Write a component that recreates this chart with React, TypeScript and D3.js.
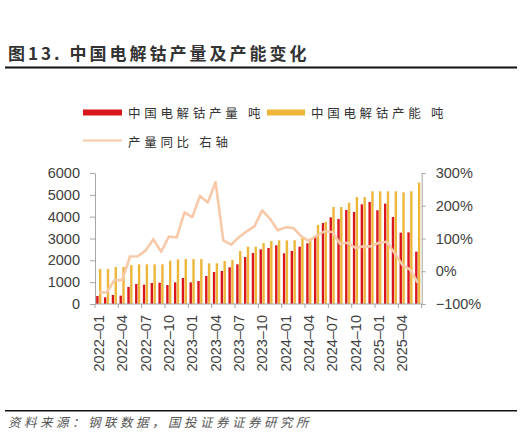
import React, { useEffect, useRef } from "react";
import * as d3 from "d3";

// 月份
const months: string[] = [
  "2022-01", "2022-02", "2022-03", "2022-04", "2022-05", "2022-06",
  "2022-07", "2022-08", "2022-09", "2022-10", "2022-11", "2022-12",
  "2023-01", "2023-02", "2023-03", "2023-04", "2023-05", "2023-06",
  "2023-07", "2023-08", "2023-09", "2023-10", "2023-11", "2023-12",
  "2024-01", "2024-02", "2024-03", "2024-04", "2024-05", "2024-06",
  "2024-07", "2024-08", "2024-09", "2024-10", "2024-11", "2024-12",
  "2025-01", "2025-02", "2025-03", "2025-04", "2025-05", "2025-06",
];

// 中国电解钴产量 (吨)
const output: number[] = [
  366, 305, 412, 382, 779, 916, 885, 962, 977, 870, 992, 1191,
  992, 1053, 1283, 1466, 1512, 1680, 1817, 2153, 2336, 2504, 2565, 2687,
  2321, 2428, 2626, 2779, 3115, 3710, 3970, 3894, 4306, 4214, 4565, 4672,
  4291, 4596, 3985, 3267, 3282, 2397,
];

// 中国电解钴产能 (吨)
const capacity: number[] = [
  1603, 1603, 1695, 1695, 1786, 1817, 1817, 1817, 1817, 1980, 2046, 2055,
  2055, 2055, 1863, 1863, 1970, 2015, 2428, 2626, 2626, 2794, 2886, 2916,
  2916, 2916, 3023, 3000, 3619, 3771, 4443, 4443, 4641, 4901, 4901, 5161,
  5161, 5161, 5161, 5115, 5161, 5560,
];

// 产量同比 (%) 右轴
const yoy: number[] = [
  -65, -65, -27, -27, 45, 46, 63, 98, 59, 106, 103, 180,
  165, 230, 210, 272, 94, 81, 104, 122, 137, 186, 160, 125,
  134, 132, 107, 92, 109, 122, 120, 84, 87, 71, 76, 76,
  87, 90, 56, 20, 5, -35,
];

const leftTicks = [0, 1000, 2000, 3000, 4000, 5000, 6000];
const rightTicks = [-100, 0, 100, 200, 300];

const RED = "#D9161C";
const GOLD = "#EDB63B";
const PEACH = "#F8C9A8";
const cjk = "'Noto Sans CJK SC', 'Noto Sans', sans-serif";
const num = "'Liberation Sans', Arial, sans-serif";

const App: React.FC = () => {
  const svgRef = useRef<SVGSVGElement | null>(null);

  useEffect(() => {
    const svg = d3.select(svgRef.current);
    svg.selectAll("*").remove();

    const left = 95;
    const right = 421.7;
    const top = 173;
    const bottom = 304;

    const x = d3.scaleBand<string>().domain(months).range([left, right]).padding(0);
    const y = d3.scaleLinear().domain([0, 6000]).range([bottom, top]);
    const y2 = d3.scaleLinear().domain([-100, 300]).range([bottom, top]);
    const bw = x.bandwidth();
    const cx = (m: string) => (x(m) ?? 0) + bw / 2;

    // 标题
    svg
      .append("text")
      .attr("x", 8)
      .attr("y", 60)
      .text("图13. 中国电解钴产量及产能变化")
      .style("font-family", cjk)
      .style("font-size", "17px")
      .style("font-weight", "600")
      .style("letter-spacing", "3px")
      .style("fill", "#333");

    svg
      .append("line")
      .attr("x1", 5)
      .attr("x2", 517)
      .attr("y1", 67.5)
      .attr("y2", 67.5)
      .attr("stroke", "#111")
      .attr("stroke-width", 1.8);

    // 图例
    const legend = svg.append("g");
    const legendText = (tx: number, ty: number, s: string) =>
      legend
        .append("text")
        .attr("x", tx)
        .attr("y", ty)
        .text(s)
        .style("font-family", cjk)
        .style("font-size", "12.5px")
        .style("letter-spacing", "3.7px")
        .style("fill", "#333");

    legend.append("rect").attr("x", 83).attr("y", 109.5).attr("width", 39).attr("height", 6).attr("fill", RED);
    legendText(128, 118, "中国电解钴产量 吨");
    legend.append("rect").attr("x", 267).attr("y", 109.5).attr("width", 38).attr("height", 6).attr("fill", GOLD);
    legendText(311, 118, "中国电解钴产能 吨");
    legend
      .append("line")
      .attr("x1", 83)
      .attr("x2", 122)
      .attr("y1", 140.5)
      .attr("y2", 140.5)
      .attr("stroke", PEACH)
      .attr("stroke-width", 2);
    legendText(128, 147, "产量同比 右轴");

    // 柱子
    const chart = svg.append("g");
    chart
      .selectAll(".bar-out")
      .data(months)
      .enter()
      .append("rect")
      .attr("x", (m) => cx(m) - 2.7)
      .attr("y", (_, i) => y(output[i]))
      .attr("width", 2.4)
      .attr("height", (_, i) => bottom - y(output[i]))
      .attr("fill", RED);

    chart
      .selectAll(".bar-cap")
      .data(months)
      .enter()
      .append("rect")
      .attr("x", (m) => cx(m) + 0.1)
      .attr("y", (_, i) => y(capacity[i]))
      .attr("width", 2.4)
      .attr("height", (_, i) => bottom - y(capacity[i]))
      .attr("fill", GOLD);

    // 同比线
    const line = d3
      .line<number>()
      .x((_, i) => cx(months[i]))
      .y((d) => y2(d));

    chart
      .append("path")
      .datum(yoy)
      .attr("fill", "none")
      .attr("stroke", PEACH)
      .attr("stroke-width", 2.6)
      .attr("stroke-linejoin", "round")
      .attr("d", line);

    // 左轴
    const axisColor = "#A6A6A6";
    const yAxis = svg
      .append("g")
      .attr("transform", `translate(${left}, 0)`)
      .call(
        d3
          .axisLeft(y)
          .tickValues(leftTicks)
          .tickSize(5)
          .tickPadding(10)
          .tickSizeOuter(0)
          .tickFormat(d3.format("d"))
      );
    yAxis.selectAll("text").style("font-family", num).style("font-size", "14.5px").style("fill", "#404040");

    // 右轴
    const y2Axis = svg
      .append("g")
      .attr("transform", `translate(${right}, 0)`)
      .call(
        d3
          .axisRight(y2)
          .tickValues(rightTicks)
          .tickSize(4)
          .tickPadding(10)
          .tickSizeOuter(0)
          .tickFormat((d) => `${d3.format("d")(d as number).replace("-", "−")}%`)
      );
    y2Axis.selectAll("text").style("font-family", num).style("font-size", "14.5px").style("fill", "#404040");

    // X轴
    const tickIdx = months.map((_, i) => i).filter((i) => i % 3 === 0);
    const xAxis = svg.append("g");
    xAxis
      .append("line")
      .attr("x1", left)
      .attr("x2", right)
      .attr("y1", bottom)
      .attr("y2", bottom)
      .attr("stroke", axisColor);
    xAxis
      .selectAll(".xtick")
      .data([...tickIdx, months.length])
      .enter()
      .append("line")
      .attr("x1", (i) => (i < months.length ? x(months[i])! : right))
      .attr("x2", (i) => (i < months.length ? x(months[i])! : right))
      .attr("y1", bottom)
      .attr("y2", bottom + 4)
      .attr("stroke", axisColor);
    xAxis
      .selectAll(".xlabel")
      .data(tickIdx)
      .enter()
      .append("text")
      .attr("transform", (i) => `translate(${cx(months[i]) + 5}, ${bottom + 11}) rotate(-90)`)
      .attr("text-anchor", "end")
      .text((i) => months[i].replace("-", "–"))
      .style("font-family", num)
      .style("font-size", "14.5px")
      .style("fill", "#404040");

    [yAxis, y2Axis].forEach((g) => {
      g.selectAll(".domain").attr("stroke", axisColor);
      g.selectAll(".tick line").attr("stroke", axisColor);
    });

    // 资料来源
    svg
      .append("line")
      .attr("x1", 5)
      .attr("x2", 517)
      .attr("y1", 410.7)
      .attr("y2", 410.7)
      .attr("stroke", "#111")
      .attr("stroke-width", 1.5);
    svg
      .append("text")
      .attr("x", 8)
      .attr("y", 427)
      .text("资料来源：钢联数据，国投证券证券研究所")
      .style("font-family", cjk)
      .style("font-size", "12.5px")
      .style("font-style", "italic")
      .style("letter-spacing", "3.5px")
      .style("fill", "#555");
  }, []);

  return (
    <div style={{ position: "absolute", left: 0, top: 0, width: 527, height: 446, background: "#fff" }}>
      <svg ref={svgRef} width={527} height={446}></svg>
    </div>
  );
};

export default App;
